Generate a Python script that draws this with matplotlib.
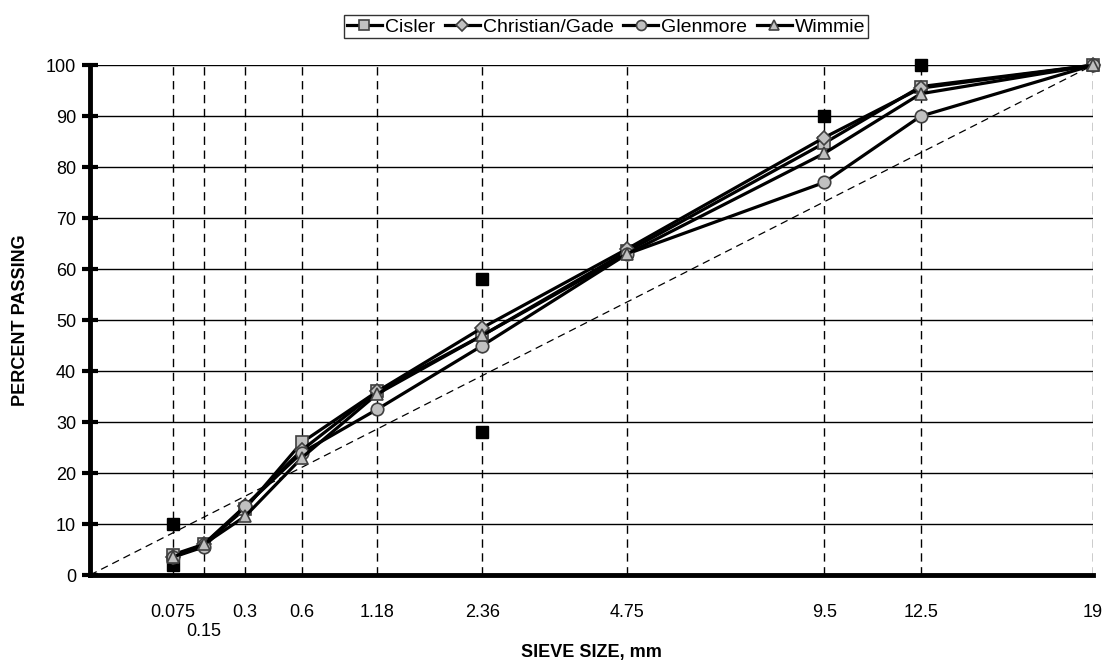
import numpy as np
import matplotlib.pyplot as plt

plt.rcParams['font.family'] = ['Liberation Sans', 'DejaVu Sans']

sieves = [0.075, 0.15, 0.3, 0.6, 1.18, 2.36, 4.75, 9.5, 12.5, 19]
sieve_labels = ['0.075', '0.15', '0.3', '0.6', '1.18', '2.36', '4.75', '9.5', '12.5', '19']

cisler = [4, 6, 13, 26, 36, 47, 63.5, 84.7, 95.8, 100]
christian = [3.5, 6, 13.5, 24.5, 36, 48.5, 64, 85.8, 95.5, 100]
glenmore = [3.5, 5.5, 13.5, 24, 32.5, 45, 63, 77, 90, 100]
wimmie = [3.5, 6, 11.5, 23, 35.5, 47, 63, 82.7, 94.4, 100]

# control points
cp_sieves = [0.075, 0.075, 2.36, 2.36, 9.5, 12.5]
cp_values = [2, 10, 28, 58, 90, 100]

# maximum density line
mdl_sieves = [0, 19]
mdl_values = [0, 100]

p = 0.45
def tx(s):
    return np.array(s, dtype=float) ** p

fig = plt.figure(figsize=(11.04, 6.65), dpi=100)
ax = fig.add_axes([0.0815, 0.1353, 0.9085, 0.7667])

ax.set_xlim(0, tx(19))
ax.set_ylim(0, 100)

# gridlines
for y in range(10, 101, 10):
    ax.axhline(y, color='black', lw=1, zorder=1)
for s in sieves:
    ax.plot([tx(s), tx(s)], [0, 100], color='black', lw=1, ls=(0, (6, 4)), zorder=1)

ax.plot(tx(mdl_sieves), mdl_values, color='black', lw=0.9, ls=(0, (6, 4)), zorder=2)

ax.plot(tx(cp_sieves), cp_values, ls='none', marker='s', ms=9, color='black', zorder=3, clip_on=False)

style = dict(color='black', lw=2.3, mfc='#c0c0c0', mec='#404040', mew=1.2, ms=9, clip_on=False, zorder=4)
ax.plot(tx(sieves), cisler, marker='s', label='Cisler', **style)
ax.plot(tx(sieves), christian, marker='D', label='Christian/Gade', **dict(style, ms=7.5))
ax.plot(tx(sieves), glenmore, marker='o', label='Glenmore', **style)
ax.plot(tx(sieves), wimmie, marker='^', label='Wimmie', **style)

ax.set_yticks(range(0, 101, 10))
ax.tick_params(axis='y', direction='inout', length=12, width=3, labelsize=13, pad=4)
ax.set_xticks(tx(sieves))
ax.set_xticklabels(sieve_labels)
ax.tick_params(axis='x', length=0, labelsize=13, pad=21)
for i, lab in enumerate(ax.get_xticklabels()):
    if sieve_labels[i] == '0.15':
        lab.set_y(-0.037)

for side in ['top', 'right']:
    ax.spines[side].set_visible(False)
ax.spines['left'].set_linewidth(3.5)
ax.spines['bottom'].set_linewidth(3.5)

ax.set_xlabel('SIEVE SIZE, mm', fontsize=13, fontweight='bold')
ax.xaxis.set_label_coords(0.5, -0.135)
ax.set_ylabel('PERCENT PASSING', fontsize=13, fontweight='bold', labelpad=12)

leg = fig.legend(loc='upper center', bbox_to_anchor=(0.549, 0.992), ncol=4, fontsize=14,
                 frameon=True, fancybox=False, edgecolor='black', handlelength=1.8,
                 handletextpad=0.15, columnspacing=0.5, borderpad=0.15, markerscale=0.8)
leg.get_frame().set_linewidth(1)

fig.savefig('out.png', dpi=100)
